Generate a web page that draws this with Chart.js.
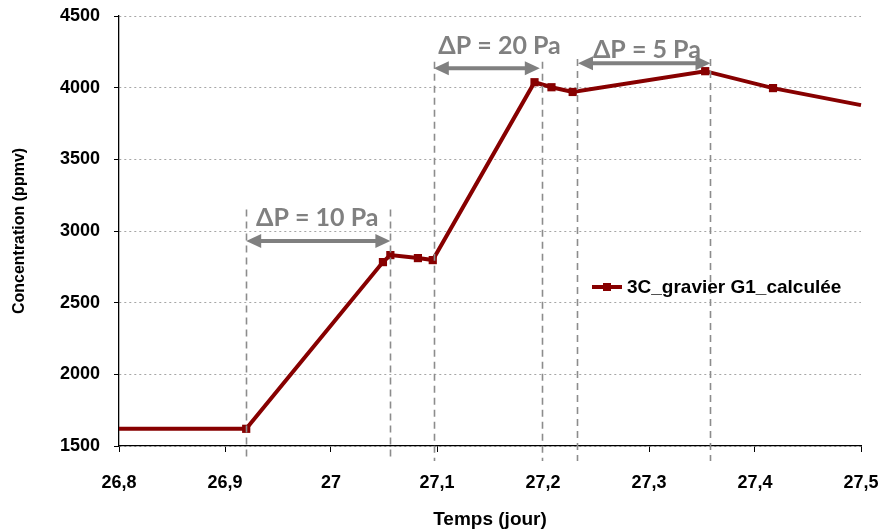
<!DOCTYPE html>
<html>
<head>
<meta charset="utf-8">
<script src="https://cdn.jsdelivr.net/npm/chart.js@4.4.0/dist/chart.umd.min.js"></script>
<style>
  html, body { margin: 0; padding: 0; background: #fff; }
  #wrap { width: 884px; height: 532px; }
</style>
</head>
<body>
<div id="wrap"><canvas id="chart"></canvas></div>
<script>
// donnees
const temps = [26.80, 26.920, 27.049, 27.056, 27.082, 27.096, 27.192, 27.208, 27.228, 27.353, 27.417, 27.50];
const concentration = [1620, 1620, 2783, 2832, 2811, 2797, 4038, 4003, 3970, 4115, 3997, 3878];
const serieNom = "3C_gravier G1_calculée";

// traits verticaux (jour) et hauteur de leur sommet (ppmv)
const reperesX = [26.920, 27.056, 27.097, 27.199, 27.232, 27.358];
const reperesHaut = [3150, 3150, 4180, 4180, 4200, 4200];

// fleches deltaP
const deltaTextes = ["ΔP = 10 Pa", "ΔP = 20 Pa", "ΔP = 5 Pa"];
const deltaDebut = [26.920, 27.097, 27.233];
const deltaFin = [27.056, 27.197, 27.358];
const deltaFlecheY = [2930, 4136, 4171];
const deltaTexteX = [26.987, 27.159, 27.298];
const deltaTexteY = [3090, 4290, 4262];

const rouge = "#870000";
const gris = "#808080";
const police = "'Liberation Sans', Arial, sans-serif";

const points = temps.map((t, i) => ({ x: t, y: concentration[i] }));
const rayons = temps.map((t, i) => (i === 0 || i === temps.length - 1) ? 0 : 5.8);

// annotations : pointilles, fleches, textes, legende
const annotations = {
  id: "annotations",
  afterDatasetsDraw(chart) {
    const { ctx, chartArea, scales: { x, y } } = chart;
    ctx.save();

    // traits verticaux
    ctx.strokeStyle = "#8c8c8c";
    ctx.lineWidth = 1.6;
    ctx.setLineDash([7, 5]);
    reperesX.forEach((t, i) => {
      const px = Math.round(x.getPixelForValue(t)) + 0.5;
      ctx.beginPath();
      ctx.moveTo(px, y.getPixelForValue(reperesHaut[i]));
      ctx.lineTo(px, chartArea.bottom + 15);
      ctx.stroke();
    });
    ctx.setLineDash([]);

    // fleches a deux pointes
    ctx.strokeStyle = gris;
    ctx.fillStyle = gris;
    ctx.lineWidth = 4;
    const tete = 15, demi = 7;
    deltaDebut.forEach((d, i) => {
      const x1 = x.getPixelForValue(d);
      const x2 = x.getPixelForValue(deltaFin[i]);
      const py = y.getPixelForValue(deltaFlecheY[i]);
      ctx.beginPath();
      ctx.moveTo(x1 + tete - 2, py);
      ctx.lineTo(x2 - tete + 2, py);
      ctx.stroke();
      ctx.beginPath();
      ctx.moveTo(x1, py);
      ctx.lineTo(x1 + tete, py - demi);
      ctx.lineTo(x1 + tete, py + demi);
      ctx.closePath();
      ctx.fill();
      ctx.beginPath();
      ctx.moveTo(x2, py);
      ctx.lineTo(x2 - tete, py - demi);
      ctx.lineTo(x2 - tete, py + demi);
      ctx.closePath();
      ctx.fill();
    });

    // textes deltaP
    ctx.font = "bold 25px Lato, 'Open Sans', sans-serif";
    ctx.textAlign = "center";
    ctx.textBaseline = "middle";
    deltaTextes.forEach((txt, i) => {
      ctx.fillText(txt, x.getPixelForValue(deltaTexteX[i]), y.getPixelForValue(deltaTexteY[i]));
    });

    // legende
    const lx = 592, ly = 287;
    ctx.strokeStyle = rouge;
    ctx.lineWidth = 4;
    ctx.beginPath();
    ctx.moveTo(lx, ly);
    ctx.lineTo(lx + 30, ly);
    ctx.stroke();
    ctx.fillStyle = rouge;
    ctx.fillRect(lx + 11, ly - 4, 8, 8);
    ctx.fillStyle = "#000";
    ctx.textAlign = "left";
    ctx.font = "bold 19px " + police;
    ctx.fillText(serieNom, lx + 35, ly + 1);

    ctx.restore();
  }
};

new Chart(document.getElementById("chart"), {
  type: "line",
  data: {
    datasets: [{
      label: serieNom,
      data: points,
      borderColor: rouge,
      backgroundColor: rouge,
      borderWidth: 4,
      pointStyle: "rect",
      pointRadius: rayons,
      pointHoverRadius: rayons,
      pointBorderWidth: 0,
      tension: 0,
      clip: 2
    }]
  },
  options: {
    responsive: true,
    maintainAspectRatio: false,
    animation: false,
    layout: { padding: { top: 16, right: 23, left: 0, bottom: 0 } },
    plugins: {
      legend: { display: false },
      tooltip: { enabled: false }
    },
    scales: {
      x: {
        type: "linear",
        min: 26.8,
        max: 27.5,
        afterFit(scale) {
          scale.height = 86;
          scale.paddingLeft = 0;
          scale.paddingRight = 0;
        },
        ticks: {
          stepSize: 0.1,
          color: "#000",
          padding: 20,
          maxRotation: 0,
          font: { family: police, size: 18, weight: "bold" },
          callback: v => String(Number(v.toFixed(1))).replace(".", ",")
        },
        grid: { drawOnChartArea: false, drawTicks: true, tickLength: 6, tickColor: "#000", color: "#000" },
        border: { color: "#000", width: 1.3 },
        title: {
          display: true,
          text: "Temps (jour)",
          color: "#000",
          padding: 1,
          font: { family: police, size: 19, weight: "bold" }
        }
      },
      y: {
        min: 1500,
        max: 4500,
        afterFit(scale) {
          scale.width = 119;
          scale.paddingTop = 0;
          scale.paddingBottom = 0;
        },
        ticks: {
          stepSize: 500,
          color: "#000",
          padding: 14,
          font: { family: police, size: 18, weight: "bold" },
          callback: v => String(v)
        },
        grid: { color: "#a6a6a6", lineWidth: 1, tickLength: 5, tickColor: "#000" },
        border: { color: "#000", width: 1.3, dash: [2, 3] },
        title: {
          display: true,
          text: "Concentration (ppmv)",
          color: "#000",
          padding: 10,
          font: { family: police, size: 16, weight: "bold" }
        }
      }
    }
  },
  plugins: [annotations]
});
</script>
</body>
</html>
